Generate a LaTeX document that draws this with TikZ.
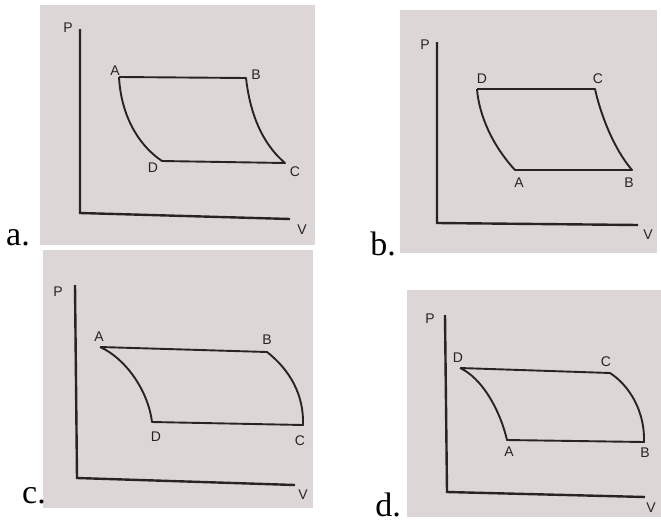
\documentclass[tikz,border=0pt]{standalone}
\usepackage{fontspec}
\setmainfont{Liberation Serif}
\newfontfamily\lblfont{Liberation Sans}
\definecolor{boxgray}{RGB}{221,214,215}
\definecolor{ink}{RGB}{40,36,36}
\begin{document}
\begin{tikzpicture}[x=1pt,y=-1pt,
  panel/.style={fill=boxgray,draw=none},
  axisline/.style={draw=ink,line width=2.4pt,line join=miter},
  cycleline/.style={draw=ink,line width=1.9pt,line join=round},
  lbl/.style={inner sep=0pt,text=ink,font=\lblfont\fontsize{14}{14}\selectfont},
  tag/.style={inner sep=0pt,anchor=base,font=\fontsize{34}{34}\selectfont}]
\useasboundingbox (0,0) rectangle (661,525);
% panels
\fill[panel] (40,5) rectangle (315,245);
\fill[panel] (400,10) rectangle (657,253);
\fill[panel] (43,250) rectangle (313,508);
\fill[panel] (407,290) rectangle (661,517);
% panel tags
\node[tag] (ta) at (18,245) {a.};
\node[tag] (tb) at (383,255) {b.};
\node[tag] (tc) at (34,503) {c.};
\node[tag] (td) at (388,516) {d.};
% ---------- panel a ----------
\coordinate (aP) at (80,29); \coordinate (aO) at (80,213); \coordinate (aV) at (290,219);
\draw[axisline] (aP) -- (aO) -- (aV);
\coordinate (aA) at (119,77); \coordinate (aB) at (246,78);
\coordinate (aC) at (285,163); \coordinate (aD) at (162,161);
\draw[cycleline] (aA) -- (aB) .. controls (249,105) and (258,140) .. (aC) -- (aD)
  .. controls (138,145) and (121,115) .. (aA);
\node[lbl] (laP) at (68,28) {P};
\node[lbl] (laV) at (302,230) {V};
\node[lbl] (laA) at (115,71) {A};
\node[lbl] (laB) at (256,75) {B};
\node[lbl] (laD) at (153,168) {D};
\node[lbl] (laC) at (295,172) {C};
% ---------- panel b ----------
\coordinate (bP) at (437,42); \coordinate (bO) at (437,223); \coordinate (bV) at (638,225);
\draw[axisline] (bP) -- (bO) -- (bV);
\coordinate (bD) at (477,89); \coordinate (bC) at (595,89);
\coordinate (bB) at (632,170); \coordinate (bA) at (515,170);
\draw[cycleline] (bD) -- (bC) .. controls (600,112) and (613,148) .. (bB) -- (bA)
  .. controls (492,145) and (479,115) .. (bD);
\node[lbl] (lbP) at (425,45) {P};
\node[lbl] (lbV) at (648,235) {V};
\node[lbl] (lbD) at (482,79) {D};
\node[lbl] (lbC) at (598,79) {C};
\node[lbl] (lbA) at (519,183) {A};
\node[lbl] (lbB) at (629,183) {B};
% ---------- panel c ----------
\coordinate (cP) at (75,285); \coordinate (cO) at (77,478); \coordinate (cV) at (295,485);
\draw[axisline] (cP) -- (cO) -- (cV);
\coordinate (cA) at (100,347); \coordinate (cB) at (267,352);
\coordinate (cC) at (303,425); \coordinate (cD) at (152,422);
\draw[cycleline] (cA) -- (cB) .. controls (290,370) and (304,395) .. (cC) -- (cD)
  .. controls (148,390) and (125,358) .. (cA);
\node[lbl] (lcP) at (58,292) {P};
\node[lbl] (lcV) at (303,495) {V};
\node[lbl] (lcA) at (99,337) {A};
\node[lbl] (lcB) at (267,340) {B};
\node[lbl] (lcD) at (156,437) {D};
\node[lbl] (lcC) at (300,441) {C};
% ---------- panel d ----------
\coordinate (dP) at (445,315); \coordinate (dO) at (447,492); \coordinate (dV) at (645,497);
\draw[axisline] (dP) -- (dO) -- (dV);
\coordinate (dD) at (460,368); \coordinate (dC) at (610,373);
\coordinate (dB) at (644,442); \coordinate (dA) at (507,440);
\draw[cycleline] (dD) -- (dC) .. controls (630,386) and (645,412) .. (dB) -- (dA)
  .. controls (500,410) and (482,378) .. (dD);
\node[lbl] (ldP) at (430,319) {P};
\node[lbl] (ldV) at (651,508) {V};
\node[lbl] (ldD) at (458,358) {D};
\node[lbl] (ldC) at (606,362) {C};
\node[lbl] (ldA) at (509,452) {A};
\node[lbl] (ldB) at (645,453) {B};
\end{tikzpicture}
\end{document}
